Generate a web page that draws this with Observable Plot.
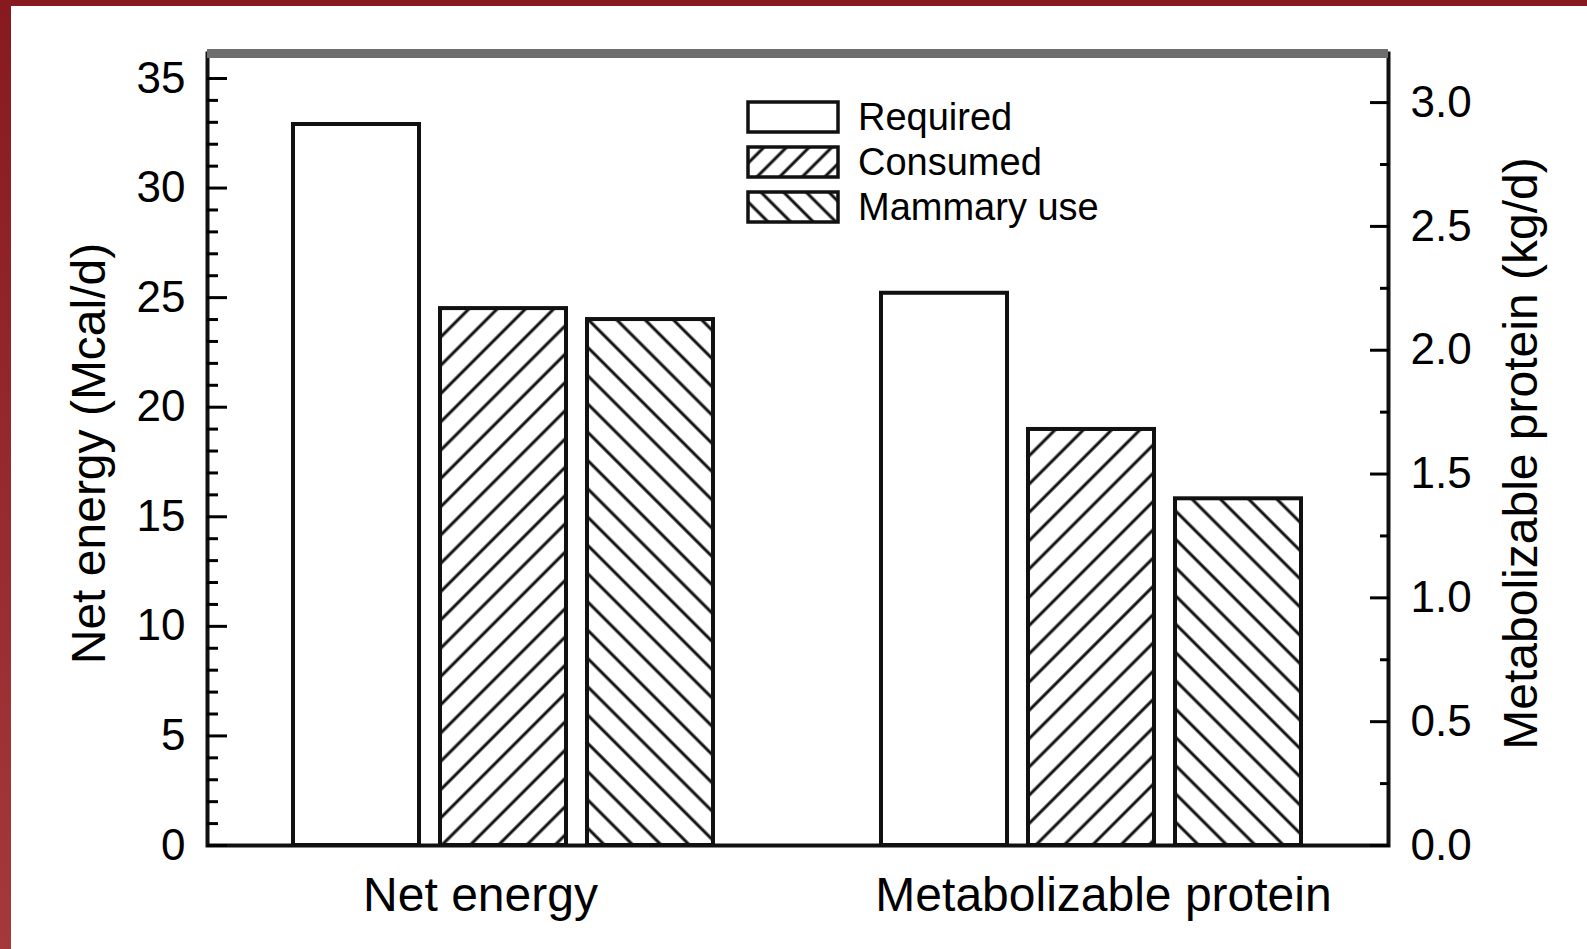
<!DOCTYPE html>
<html>
<head>
<meta charset="utf-8">
<script src="https://cdn.jsdelivr.net/npm/d3@7"></script>
<script src="https://cdn.jsdelivr.net/npm/@observablehq/plot@0.6"></script>
<style>
  html, body { margin: 0; padding: 0; background: #fff; }
  #wrap { position: relative; width: 1587px; height: 949px; background: #fff; overflow: hidden;
          font-family: "Liberation Sans", Arial, Helvetica, sans-serif; }
  #topband { position: absolute; left: 0; top: 0; width: 1587px; height: 6px; background: #871a1e; z-index: 5; }
  #leftband { position: absolute; left: 0; top: 0; width: 11px; height: 949px;
              background: linear-gradient(to bottom, #861a1e, #a4393c); z-index: 5; }
  #legend { position: absolute; left: 740px; top: 92px; z-index: 4; }
</style>
</head>
<body>
<div id="wrap">
  <div id="topband"></div>
  <div id="leftband"></div>
</div>
<script>
// ---- data ----
const categories = ["Net energy", "Metabolizable protein"];
const series = ["Required", "Consumed", "Mammary use"];
const netEnergy = [32.9, 24.5, 24.0];            // Mcal/d (left axis)
const metabolizableProtein = [2.23, 1.68, 1.40]; // kg/d (right axis)
const leftTicks = [0, 5, 10, 15, 20, 25, 30, 35];
const leftMinorTicks = d3.range(1, 35).filter(v => v % 5 !== 0);
const rightTicks = [0.0, 0.5, 1.0, 1.5, 2.0, 2.5, 3.0];
const rightMinorTicks = [0.25, 0.75, 1.25, 1.75, 2.25, 2.75];
const yLeftMax = 36.14;
const rightToLeft = 11.3; // 1 kg/d on the right axis = 11.3 Mcal/d on the left axis

const fills = {"Required": "white", "Consumed": "url(#hatchFwd)", "Mammary use": "url(#hatchBack)"};

// ---- table ----
const rows = categories.flatMap((c, i) => series.map((s, j) => {
  const v = (i === 0 ? netEnergy : metabolizableProtein)[j];
  return {category: c, series: s, value: v, y: i === 0 ? v : v * rightToLeft,
          key: c + "|" + s, fill: fills[s]};
}));
const xDomain = [
  ...series.map(s => categories[0] + "|" + s),
  "gap",
  ...series.map(s => categories[1] + "|" + s)
];

const font = "'Liberation Sans', Arial, Helvetica, sans-serif";

const chart = Plot.plot({
  width: 1587,
  height: 949,
  marginLeft: 207,
  marginRight: 199,
  marginTop: 53,
  marginBottom: 104,
  style: {background: "transparent", fontFamily: font, color: "black"},
  x: {type: "band", domain: xDomain, paddingInner: 0.14, paddingOuter: 0.56},
  y: {domain: [0, yLeftMax]},
  color: {type: "identity"},
  marks: [
    Plot.barY(rows, {x: "key", y: "y", fill: "fill", stroke: "#111", strokeWidth: 4}),
    Plot.frame({stroke: "#111", strokeWidth: 4}),
    Plot.ruleY([yLeftMax], {stroke: "#6e6e6e", strokeWidth: 9}),
    // left axis (inward ticks)
    Plot.axisY(leftTicks, {anchor: "left", tickSize: -20, tickPadding: 42, strokeWidth: 3,
      fontSize: 44, label: null}),
    Plot.axisY(leftMinorTicks, {anchor: "left", tickSize: -11, tickPadding: 0, strokeWidth: 3,
      tickFormat: () => "", label: null}),
    // right axis (inward ticks), values in kg/d
    Plot.axisY(rightTicks.map(v => v * rightToLeft), {anchor: "right", tickSize: -19, tickPadding: 41,
      strokeWidth: 3, fontSize: 44, tickFormat: d => (d / rightToLeft).toFixed(1), label: null}),
    Plot.axisY(rightMinorTicks.map(v => v * rightToLeft), {anchor: "right", tickSize: -9, tickPadding: 0,
      strokeWidth: 3, tickFormat: () => "", label: null}),
    // category labels
    Plot.axisX([categories[0] + "|" + series[1]], {tickSize: 0, tickPadding: 31, fontSize: 48, dx: -23,
      tickFormat: d => d.split("|")[0], label: null}),
    Plot.axisX([categories[1] + "|" + series[1]], {tickSize: 0, tickPadding: 31, fontSize: 48, dx: 12,
      tickFormat: d => d.split("|")[0], label: null}),
    // axis titles
    Plot.text(["Net energy (Mcal/d)"], {text: d => d, frameAnchor: "left", textAnchor: "middle",
      rotate: -90, dx: -118, dy: 4, fontSize: 48}),
    Plot.text(["Metabolizable protein (kg/d)"], {text: d => d, frameAnchor: "right", textAnchor: "middle",
      rotate: -90, dx: 133, dy: 4, fontSize: 48})
  ]
});

// hatch patterns
const ns = "http://www.w3.org/2000/svg";
function addPatterns(svg) {
  const defs = document.createElementNS(ns, "defs");
  defs.innerHTML = `
    <pattern id="hatchFwd" patternUnits="userSpaceOnUse" width="20" height="20" patternTransform="rotate(45)">
      <rect width="20" height="20" fill="white"/>
      <line x1="10" y1="0" x2="10" y2="20" stroke="#111" stroke-width="3"/>
    </pattern>
    <pattern id="hatchBack" patternUnits="userSpaceOnUse" width="20" height="20" patternTransform="rotate(-45)">
      <rect width="20" height="20" fill="white"/>
      <line x1="10" y1="0" x2="10" y2="20" stroke="#111" stroke-width="3"/>
    </pattern>
    <pattern id="hatchFwdS" patternUnits="userSpaceOnUse" width="16" height="16" patternTransform="rotate(45)">
      <rect width="16" height="16" fill="white"/>
      <line x1="8" y1="0" x2="8" y2="16" stroke="#111" stroke-width="3"/>
    </pattern>
    <pattern id="hatchBackS" patternUnits="userSpaceOnUse" width="16" height="16" patternTransform="rotate(-45)">
      <rect width="16" height="16" fill="white"/>
      <line x1="8" y1="0" x2="8" y2="16" stroke="#111" stroke-width="3"/>
    </pattern>`;
  svg.insertBefore(defs, svg.firstChild);
}
addPatterns(chart);
chart.style.position = "absolute";
chart.style.left = "0px";
chart.style.top = "0px";
document.getElementById("wrap").appendChild(chart);

// legend (inside the plot area, upper middle)
const legendFills = {"Required": "white", "Consumed": "url(#hatchFwdS)", "Mammary use": "url(#hatchBackS)"};
const legend = document.createElementNS(ns, "svg");
legend.setAttribute("id", "legend");
legend.setAttribute("width", "380");
legend.setAttribute("height", "140");
series.forEach((s, i) => {
  const cy = 25 + i * 45;
  const r = document.createElementNS(ns, "rect");
  r.setAttribute("x", 8); r.setAttribute("y", cy - 15);
  r.setAttribute("width", 90); r.setAttribute("height", 30);
  r.setAttribute("fill", legendFills[s]); r.setAttribute("stroke", "#111"); r.setAttribute("stroke-width", 3.5);
  legend.appendChild(r);
  const t = document.createElementNS(ns, "text");
  t.setAttribute("x", 118); t.setAttribute("y", cy);
  t.setAttribute("dy", "0.35em");
  t.setAttribute("font-size", 38);
  t.setAttribute("font-family", font);
  t.setAttribute("fill", "black");
  t.textContent = s;
  legend.appendChild(t);
});
document.getElementById("wrap").appendChild(legend);
</script>
</body>
</html>
